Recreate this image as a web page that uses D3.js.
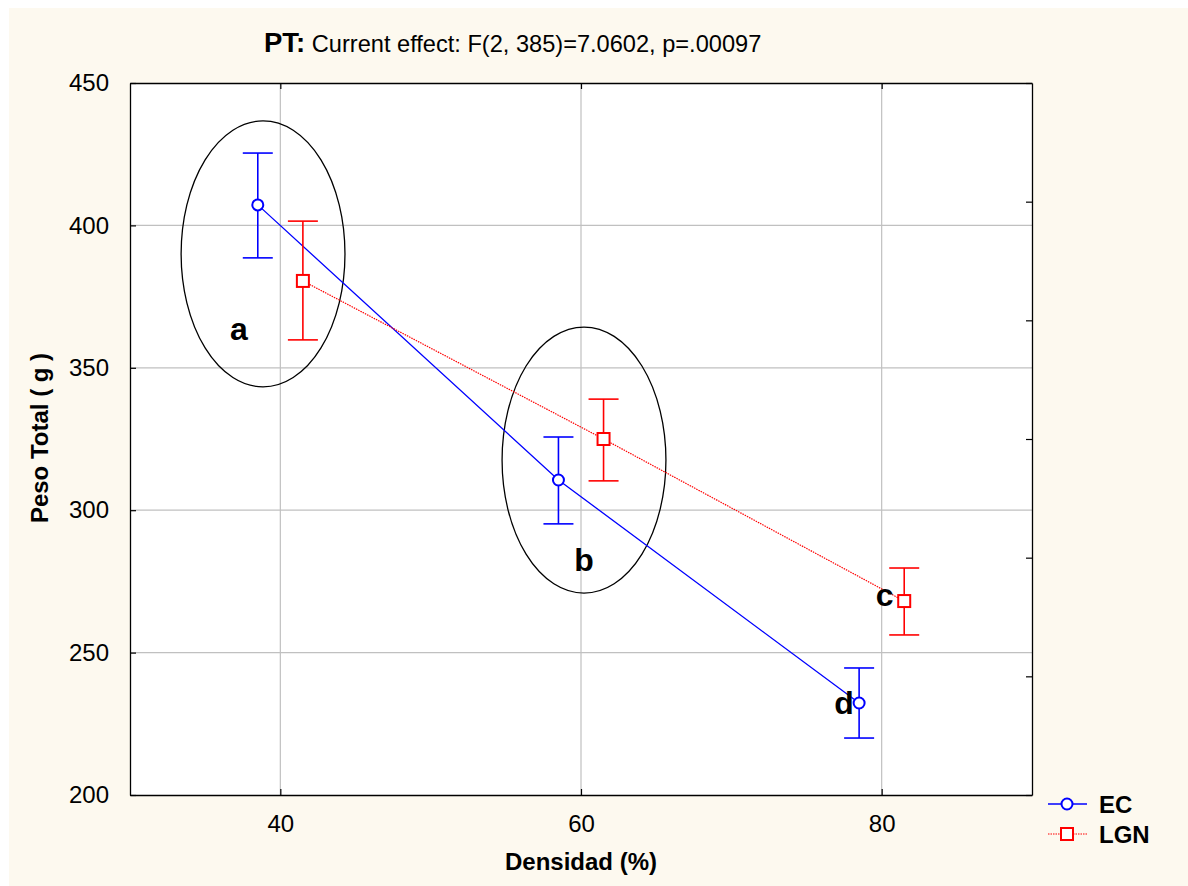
<!DOCTYPE html>
<html>
<head>
<meta charset="utf-8">
<script src="https://cdn.jsdelivr.net/npm/d3@7"></script>
<style>
  body { margin: 0; background: #fff; }
  text { font-family: Arial, "Liberation Sans", sans-serif; }
</style>
</head>
<body>
<svg class="chart" width="1188" height="886"></svg>
<script>
// data
const densities = [40, 60, 80];
const ecMean = [407.2, 310.6, 232.3];
const ecLow  = [388.6, 295.2, 220.0];
const ecHigh = [425.4, 325.7, 244.6];
const lgnMean = [380.5, 325.0, 268.1];
const lgnLow  = [359.8, 310.3, 256.2];
const lgnHigh = [401.5, 339.0, 279.7];
const xTicks = [40, 60, 80];
const yTicks = [200, 250, 300, 350, 400, 450];
const groupLetters = ["a", "b", "c", "d"];
const letterPos = [[37.25, 359.8], [60.2, 278.6], [80.2, 266.4], [77.5, 228.4]];
const ellipseCenters = [[38.85, 390], [60.2, 317.6]];
const ellipseRadii = [[5.45, 46.7], [5.45, 46.7]];

let svg = d3.select("svg.chart"),
    margin = {top: 83, bottom: 91, left: 130, right: 156},
    width = svg.attr("width") - margin.left - margin.right,
    height = svg.attr("height") - margin.top - margin.bottom;

// cream background
svg.append("rect")
    .attr("x", 9).attr("y", 8)
    .attr("width", 1188 - 9).attr("height", 886 - 8)
    .attr("fill", "#fdf9ef");

let g = svg.append("g")
    .attr("transform", "translate(" + margin.left + "," + margin.top + ")");

let xScale = d3.scaleLinear().domain([30, 90]).range([0, width]);
let yScale = d3.scaleLinear().domain([200, 450]).range([height, 0]);
let yRight = d3.scaleLinear().domain([0, 6]).range([height, 0]);

g.append("rect")
    .attr("width", width).attr("height", height)
    .attr("fill", "#fff");

// grid
g.selectAll(".vgrid")
    .data(xTicks)
    .join("line")
    .attr("x1", d => xScale(d)).attr("x2", d => xScale(d))
    .attr("y1", 0).attr("y2", height)
    .attr("stroke", "#c0c0c0").attr("stroke-width", 1.2);
g.selectAll(".hgrid")
    .data(yTicks.slice(1, -1))
    .join("line")
    .attr("y1", d => yScale(d)).attr("y2", d => yScale(d))
    .attr("x1", 0).attr("x2", width)
    .attr("stroke", "#c0c0c0").attr("stroke-width", 1.2);

// axes (ticks inward)
let axisStyle = sel => {
    sel.select(".domain").attr("stroke", "#000").attr("stroke-width", 1.3);
    sel.selectAll(".tick line").attr("stroke", "#000").attr("stroke-width", 1.2);
    sel.selectAll("text").attr("font-size", "24px").attr("fill", "#000")
        .attr("font-family", "Arial, 'Liberation Sans', sans-serif");
};
g.append("g")
    .attr("transform", "translate(0," + height + ")")
    .call(d3.axisBottom(xScale).tickValues(xTicks).tickSize(-6).tickSizeOuter(0).tickPadding(20))
    .call(axisStyle);
g.append("g")
    .call(d3.axisTop(xScale).tickValues(xTicks).tickSize(-6).tickSizeOuter(0).tickFormat(""))
    .call(axisStyle);
g.append("g")
    .call(d3.axisLeft(yScale).tickValues(yTicks).tickSize(-6).tickSizeOuter(0).tickPadding(21))
    .call(axisStyle);
g.append("g")
    .attr("transform", "translate(" + width + ",0)")
    .call(d3.axisRight(yRight).ticks(6).tickSize(-6).tickSizeOuter(0).tickFormat(""))
    .call(axisStyle);

// ellipses
g.selectAll(".ell")
    .data(ellipseCenters)
    .join("ellipse")
    .attr("cx", d => xScale(d[0]))
    .attr("cy", d => yScale(d[1]))
    .attr("rx", (d, i) => xScale(30 + ellipseRadii[i][0]) - xScale(30))
    .attr("ry", (d, i) => yScale(200) - yScale(200 + ellipseRadii[i][1]))
    .attr("fill", "none").attr("stroke", "#000").attr("stroke-width", 1.3);

let series = [
    {name: "EC", off: -1.5, mean: ecMean, lo: ecLow, hi: ecHigh, color: "#0000ff", shape: "circle", dash: null},
    {name: "LGN", off: 1.5, mean: lgnMean, lo: lgnLow, hi: lgnHigh, color: "#ff0000", shape: "square", dash: "1.5,1"}
];

series.forEach(s => {
    let pts = densities.map((d, i) => ({x: d + s.off, y: s.mean[i], lo: s.lo[i], hi: s.hi[i]}));
    let chart = g.append("g");

    chart.append("path")
        .datum(pts)
        .attr("fill", "none")
        .attr("stroke", s.color)
        .attr("stroke-width", s.dash ? 1.2 : 1.3)
        .attr("stroke-dasharray", s.dash)
        .attr("d", d3.line().x(d => xScale(d.x)).y(d => yScale(d.y)));

    // error bars
    chart.selectAll(".err")
        .data(pts)
        .join("line")
        .attr("x1", d => xScale(d.x)).attr("x2", d => xScale(d.x))
        .attr("y1", d => yScale(d.lo)).attr("y2", d => yScale(d.hi))
        .attr("stroke", s.color).attr("stroke-width", 1.6);
    ["lo", "hi"].forEach(k => {
        chart.selectAll(".cap-" + k)
            .data(pts)
            .join("line")
            .attr("x1", d => xScale(d.x) - 15).attr("x2", d => xScale(d.x) + 15)
            .attr("y1", d => yScale(d[k])).attr("y2", d => yScale(d[k]))
            .attr("stroke", s.color).attr("stroke-width", 1.6);
    });

    if (s.shape === "circle") {
        chart.selectAll(".mk")
            .data(pts)
            .join("circle")
            .attr("cx", d => xScale(d.x)).attr("cy", d => yScale(d.y))
            .attr("r", 5.5)
            .attr("fill", "#fff").attr("stroke", s.color).attr("stroke-width", 2);
    } else {
        chart.selectAll(".mk")
            .data(pts)
            .join("rect")
            .attr("x", d => xScale(d.x) - 6).attr("y", d => yScale(d.y) - 6)
            .attr("width", 12).attr("height", 12)
            .attr("fill", "#fff").attr("stroke", s.color).attr("stroke-width", 2);
    }
});

// group letters
g.selectAll(".letter")
    .data(groupLetters)
    .join("text")
    .attr("x", (d, i) => xScale(letterPos[i][0]))
    .attr("y", (d, i) => yScale(letterPos[i][1]))
    .attr("text-anchor", "middle")
    .attr("font-size", "32px").attr("font-weight", "bold")
    .text(d => d);

// title
let title = svg.append("text")
    .attr("x", 264).attr("y", 52)
    .attr("font-size", "23.6px");
title.append("tspan").attr("font-weight", "bold").attr("font-size", "27.5px").text("PT:");
title.append("tspan").text(" Current effect: F(2, 385)=7.0602, p=.00097");

// axis labels
svg.append("text")
    .attr("x", margin.left + width / 2).attr("y", 870)
    .attr("text-anchor", "middle")
    .attr("font-size", "24px").attr("font-weight", "bold")
    .text("Densidad (%)");
svg.append("text")
    .attr("transform", "translate(48," + (margin.top + height / 2 - 1) + ") rotate(-90)")
    .attr("text-anchor", "middle")
    .attr("font-size", "24px").attr("font-weight", "bold")
    .text("Peso Total ( g )");

// legend
let legend = svg.append("g").attr("transform", "translate(1048,804)");
series.forEach((s, i) => {
    let row = legend.append("g").attr("transform", "translate(0," + (i * 30) + ")");
    row.append("line")
        .attr("x1", 0).attr("x2", 39)
        .attr("stroke", s.color).attr("stroke-width", s.dash ? 1.2 : 1.3)
        .attr("stroke-dasharray", s.dash);
    if (s.shape === "circle") {
        row.append("circle").attr("cx", 19).attr("r", 5.5)
            .attr("fill", "#fff").attr("stroke", s.color).attr("stroke-width", 2);
    } else {
        row.append("rect").attr("x", 13).attr("y", -6).attr("width", 12).attr("height", 12)
            .attr("fill", "#fff").attr("stroke", s.color).attr("stroke-width", 2);
    }
    row.append("text")
        .attr("x", 51).attr("y", 8.5)
        .attr("font-size", "24px").attr("font-weight", "bold")
        .text(s.name);
});
</script>
</body>
</html>
